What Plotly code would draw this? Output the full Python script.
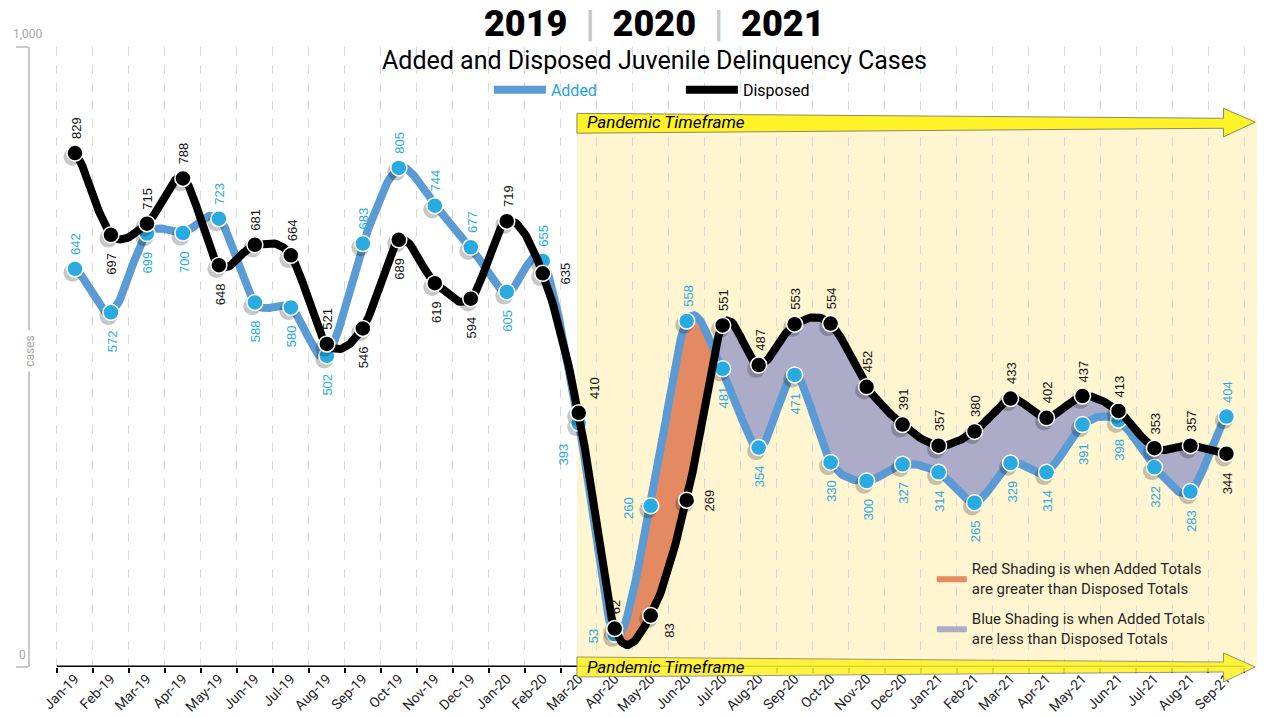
import numpy as np
import plotly.graph_objects as go

# ---------------- data ----------------
months = ["Jan-19", "Feb-19", "Mar-19", "Apr-19", "May-19", "Jun-19", "Jul-19", "Aug-19",
          "Sep-19", "Oct-19", "Nov-19", "Dec-19", "Jan-20", "Feb-20", "Mar-20", "Apr-20",
          "May-20", "Jun-20", "Jul-20", "Aug-20", "Sep-20", "Oct-20", "Nov-20", "Dec-20",
          "Jan-21", "Feb-21", "Mar-21", "Apr-21", "May-21", "Jun-21", "Jul-21", "Aug-21", "Sep-21"]
added = [642, 572, 699, 700, 723, 588, 580, 502, 683, 805, 744, 677, 605, 655, 393, 53,
         260, 558, 481, 354, 471, 330, 300, 327, 314, 265, 329, 314, 391, 398, 322, 283, 404]
disposed = [829, 697, 715, 788, 648, 681, 664, 521, 546, 689, 619, 594, 719, 635, 410, 62,
            83, 269, 551, 487, 553, 554, 452, 391, 357, 380, 433, 402, 437, 413, 353, 357, 344]

pandemic_start = "Mar-20"
shade_from = "Apr-20"
shade_to = "Aug-21"

# label placement (style only)
added_label_pos = ["above", "below", "below", "below", "above", "below", "below", "below",
                   "above", "above", "above", "above", "below", "above", "below-left", "left",
                   "left", "above", "below", "below", "below", "below", "below", "below",
                   "below", "below", "below", "below", "below", "below", "below", "below", "above"]
disposed_label_pos = ["above", "below", "above", "above", "below", "above", "above", "above",
                      "below", "below", "below", "below", "above", "right", "above-right", "above",
                      "below-right", "right", "above", "above", "above", "above", "above", "above",
                      "above", "above", "above", "above", "above", "above", "above", "above", "below"]

ADDED_LINE = "#5B9BD5"
ADDED_DOT = "#29ABE2"
DISP = "#000000"
RED_FILL = "#E48A62"
BLUE_FILL = "#ACACC8"
YELLOW_BG = "#FFF5D0"
ARROW = "#FFF227"
SHADOW = "rgba(0,0,0,0.22)"
FONT = "Roboto"
LABEL_FONT = "Liberation Sans"

x_idx = np.arange(len(months))


def smooth(vals, n=24):
    """Catmull-Rom style smoothed curve through the points (rendering only)."""
    y = np.asarray(vals, dtype=float)
    k = len(y)
    m = np.zeros(k)
    m[1:-1] = (y[2:] - y[:-2]) / 2.0
    m[0] = (y[1] - y[0]) / 2.0
    m[-1] = (y[-1] - y[-2]) / 2.0
    t = np.linspace(0, 1, n, endpoint=False)
    h00 = 2 * t**3 - 3 * t**2 + 1
    h10 = t**3 - 2 * t**2 + t
    h01 = -2 * t**3 + 3 * t**2
    h11 = t**3 - t**2
    xs, ys = [], []
    for i in range(k - 1):
        xs.append(i + t)
        ys.append(h00 * y[i] + h10 * m[i] + h01 * y[i + 1] + h11 * m[i + 1])
    xs.append(np.array([k - 1.0]))
    ys.append(np.array([y[-1]]))
    return np.concatenate(xs), np.concatenate(ys)


xd, ya_d = smooth(added)
_, yd_d = smooth(disposed)

# ---------------- shading regions between curves ----------------
i_from = months.index(shade_from)
i_to = months.index(shade_to)
diff = ya_d - yd_d
segments = []
cur = None
start_j = int(np.argmax(xd >= i_from))
for j in range(start_j, len(xd)):
    s = diff[j] > 0
    if cur is None:
        cur = dict(sign=s, xs=[xd[j]], ya=[ya_d[j]], yd=[yd_d[j]])
    elif s != cur["sign"]:
        f = diff[j - 1] / (diff[j - 1] - diff[j])
        xc = xd[j - 1] + f * (xd[j] - xd[j - 1])
        yc = ya_d[j - 1] + f * (ya_d[j] - ya_d[j - 1])
        cur["xs"].append(xc); cur["ya"].append(yc); cur["yd"].append(yc)
        segments.append(cur)
        cur = dict(sign=s, xs=[xc, xd[j]], ya=[yc, ya_d[j]], yd=[yc, yd_d[j]])
    else:
        cur["xs"].append(xd[j]); cur["ya"].append(ya_d[j]); cur["yd"].append(yd_d[j])
segments.append(cur)
segments = [sg for sg in segments if sg["xs"][0] <= i_to]

fig = go.Figure()

shown = {True: False, False: False}
for sg in segments:
    red = bool(sg["sign"])
    px = list(sg["xs"]) + list(sg["xs"])[::-1]
    py = list(sg["ya"]) + list(sg["yd"])[::-1]
    name = ("Red Shading is when Added Totals<br>are greater than Disposed Totals" if red
            else "Blue Shading is when Added Totals<br>are less than Disposed Totals")
    fig.add_trace(go.Scatter(
        x=px, y=py, mode="lines", fill="toself",
        fillcolor=RED_FILL if red else BLUE_FILL, line=dict(width=0),
        hoverinfo="skip", name=name, legend="legend2",
        legendgroup="red" if red else "blue", legendrank=1 if red else 2,
        showlegend=not shown[red]))
    shown[red] = True

# soft marker shadow offset (in axis units: ~2.5px left, ~4px down)
sh_dx, sh_dy = -0.07, -6.0

# lines and markers
fig.add_trace(go.Scatter(x=xd, y=ya_d, mode="lines", line=dict(color=ADDED_LINE, width=8),
                         name="<span style='color:#1FA3DE'>Added</span>", hoverinfo="skip"))
fig.add_trace(go.Scatter(x=x_idx + sh_dx, y=np.array(added) + sh_dy, mode="markers",
                         showlegend=False, hoverinfo="skip",
                         marker=dict(size=18, color=SHADOW, line=dict(width=0))))
fig.add_trace(go.Scatter(x=x_idx, y=added, mode="markers", showlegend=False,
                         marker=dict(size=16, color=ADDED_DOT, line=dict(color="white", width=1.5)),
                         text=months, hovertemplate="%{text}: %{y}<extra>Added</extra>"))
fig.add_trace(go.Scatter(x=xd, y=yd_d, mode="lines", line=dict(color=DISP, width=8),
                         name="Disposed", hoverinfo="skip"))
fig.add_trace(go.Scatter(x=x_idx + sh_dx, y=np.array(disposed) + sh_dy, mode="markers",
                         showlegend=False, hoverinfo="skip",
                         marker=dict(size=18, color=SHADOW, line=dict(width=0))))
fig.add_trace(go.Scatter(x=x_idx, y=disposed, mode="markers", showlegend=False,
                         marker=dict(size=16, color=DISP, line=dict(color="white", width=1.5)),
                         text=months, hovertemplate="%{text}: %{y}<extra>Disposed</extra>"))

# ---------------- data labels ----------------
place = {
    "above": dict(xanchor="center", yanchor="bottom", xshift=1, yshift=12),
    "below": dict(xanchor="center", yanchor="top", xshift=1, yshift=-16),
    "left": dict(xanchor="right", yanchor="middle", xshift=-12, yshift=-2),
    "right": dict(xanchor="left", yanchor="middle", xshift=13, yshift=0),
    "above-right": dict(xanchor="left", yanchor="bottom", xshift=7, yshift=12),
    "below-left": dict(xanchor="right", yanchor="top", xshift=-6, yshift=-18),
    "below-right": dict(xanchor="left", yanchor="top", xshift=9, yshift=-6),
}
annotations = []
for vals, poss, col in ((added, added_label_pos, ADDED_DOT), (disposed, disposed_label_pos, "#111111")):
    for i, (v, p) in enumerate(zip(vals, poss)):
        annotations.append(dict(x=i, y=v, xref="x", yref="y", text=str(v), showarrow=False,
                                textangle=-90, font=dict(family=LABEL_FONT, size=13, color=col),
                                **place[p]))

# titles
pipe = "&nbsp; <span style='color:#C8C8C8'>|</span> &nbsp;"
annotations.append(dict(
    x=0.5086, y=1.0742, xref="paper", yref="paper", xanchor="center", yanchor="top", showarrow=False,
    text=f"2019{pipe}2020{pipe}2021",
    font=dict(family=FONT, size=36, color="black", weight=900)))
annotations.append(dict(
    x=0.5086, y=0.978, xref="paper", yref="paper", xanchor="center", yanchor="middle", showarrow=False,
    text="Added and Disposed Juvenile Delinquency Cases",
    font=dict(family=FONT, size=25, color="black")))

# y axis labels
annotations.append(dict(x=0, y=1000, xref="paper", yref="y", text="1,000", showarrow=False,
                        xanchor="center", yanchor="bottom", xshift=-2, yshift=4,
                        font=dict(family=FONT, size=12, color="#A6A6A6")))
annotations.append(dict(x=0, y=0, xref="paper", yref="y", text="0", showarrow=False,
                        xanchor="center", yanchor="bottom", xshift=-8, yshift=3,
                        font=dict(family=FONT, size=12, color="#A6A6A6")))
annotations.append(dict(x=0, y=510, xref="paper", yref="y", text="cases", showarrow=False,
                        textangle=-90, xanchor="center", yanchor="middle", bgcolor="white",
                        borderpad=4, font=dict(family=FONT, size=12, color="#A6A6A6")))

# pandemic arrow labels
i_p = months.index(pandemic_start)
annotations.append(dict(x=i_p, y=879, xref="x", yref="y", text="<i>Pandemic Timeframe</i>",
                        showarrow=False, xanchor="left", yanchor="middle", xshift=6,
                        font=dict(family=FONT, size=17, color="black")))
annotations.append(dict(x=i_p, y=0, xref="x", yref="y", text="<i>Pandemic Timeframe</i>",
                        showarrow=False, xanchor="left", yanchor="middle", xshift=6,
                        font=dict(family=FONT, size=17, color="black")))

# ---------------- shapes ----------------
x_end = 32.8
x_head = 31.92
xs0 = i_p - 0.05
shapes = [
    dict(type="rect", xref="x", yref="y", x0=xs0, x1=32.85, y0=0, y1=885,
         fillcolor=YELLOW_BG, line=dict(width=0), layer="below"),
    # top arrow
    dict(type="path", xref="x", yref="y", layer="above",
         path=(f"M{xs0},893 L{x_head},885 L{x_head},901 L{x_end},879 L{x_head},855 "
               f"L{x_head},869 L{xs0},861 Z"),
         fillcolor=ARROW, line=dict(color="#8A8A6A", width=1)),
    # x baseline
    dict(type="line", xref="x", yref="y", x0=-0.5, x1=32.5, y0=0, y1=0,
         line=dict(color="black", width=3), layer="above"),
    # bottom arrow (y in paper units: value/1000)
    dict(type="path", xref="x", yref="paper", layer="above", opacity=0.88,
         path=(f"M{xs0},0.0161 L{x_head},0.008 L{x_head},0.0226 L{x_end},0 L{x_head},-0.0242 "
               f"L{x_head},-0.008 L{xs0},-0.0161 Z"),
         fillcolor=ARROW, line=dict(color="#8A8A6A", width=1)),
]

fig.update_layout(
    width=1278, height=718,
    margin=dict(l=30, r=21, t=47, b=51, autoexpand=False),
    paper_bgcolor="white", plot_bgcolor="white",
    showlegend=True,
    legend=dict(orientation="h", x=0.374, xanchor="left", y=0.931, yanchor="middle",
                entrywidth=125, entrywidthmode="pixels", itemwidth=52,
                bgcolor="rgba(0,0,0,0)",
                font=dict(family=FONT, size=16, color="black")),
    legend2=dict(orientation="v", x=0.735, xanchor="left", y=0.185, yanchor="top",
                 bgcolor="rgba(0,0,0,0)", tracegroupgap=8,
                 font=dict(family=FONT, size=15, color="#262626")),
    xaxis=dict(range=[-1.25, 32.85], tickmode="array", tickvals=list(x_idx), ticktext=months,
               ticks="", tickangle=-45, showgrid=False, showline=False, zeroline=False,
               tickfont=dict(family=FONT, size=14, color="#262626"), automargin=False,
               minor=dict(tickmode="array", tickvals=[i - 0.5 for i in range(len(months) + 1)],
                          ticks="outside", ticklen=5, tickwidth=2, tickcolor="black",
                          showgrid=True, gridcolor="#D9D9D9", griddash="dash", gridwidth=1)),
    yaxis=dict(range=[0, 1000], showgrid=False, zeroline=False, showline=True,
               linecolor="#C9C9C9", linewidth=2, ticks="outside", tickvals=[0, 1000],
               ticklen=12, tickwidth=2, tickcolor="#C9C9C9", showticklabels=False,
               automargin=False),
    annotations=annotations,
    shapes=shapes,
    hovermode="closest",
)

# remove the browser's default 8px body margin so the figure fills the window exactly
fig.write_html("out.html", config={"displayModeBar": False},
               post_script="document.body.style.margin='0px'; document.body.style.overflow='hidden';")
